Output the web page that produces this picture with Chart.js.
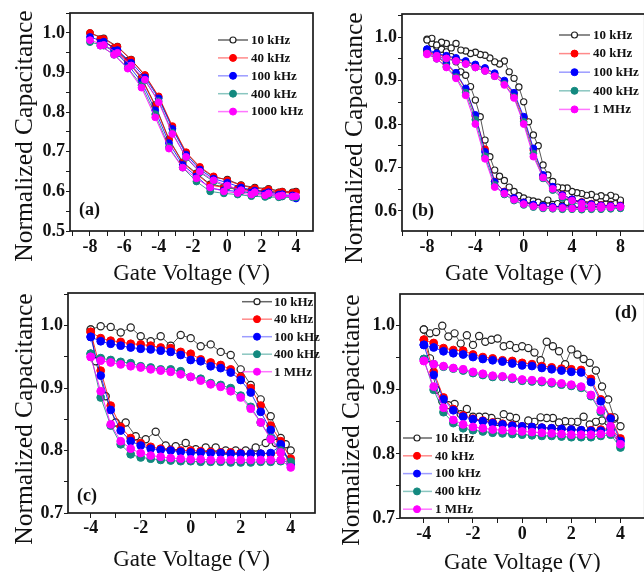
<!DOCTYPE html>
<html><head><meta charset="utf-8">
<script src="https://cdn.jsdelivr.net/npm/chart.js@4/dist/chart.umd.min.js"></script>
<style>
html,body{margin:0;padding:0;background:#fff;overflow:hidden;width:644px;height:572px;position:relative}
</style>
</head><body>
<script>
// ---------- tick / title text ----------
const X_TITLE = 'Gate Voltage (V)';
const Y_TITLE = 'Normalized Capacitance';
const namesA = ['10 kHz','40 kHz','100 kHz','400 kHz','1000 kHz'];
const namesBCD = ['10 kHz','40 kHz','100 kHz','400 kHz','1 MHz'];

// ---------- panel (a): forward branch -8..4, then return branch 3.8..-7.4 ----------
const xA = [-8,-7.2,-6.4,-5.6,-4.8,-4,-3.2,-2.4,-1.6,-0.8,0,0.8,1.6,2.4,3.2,4,
            3.8,3.0,2.2,1.4,0.6,-0.2,-1.0,-1.8,-2.6,-3.4,-4.2,-5.0,-5.8,-6.6,-7.4];
const a10   = [1.0,0.987,0.966,0.933,0.893,0.838,0.762,0.697,0.66,0.636,0.63,0.616,0.61,0.607,0.6,0.6,
               0.598,0.598,0.601,0.603,0.607,0.612,0.618,0.646,0.674,0.732,0.818,0.887,0.93,0.963,0.985];
const a40   = [1.0,0.985,0.965,0.932,0.894,0.84,0.765,0.699,0.662,0.638,0.628,0.615,0.608,0.605,0.599,0.598,
               0.596,0.597,0.6,0.602,0.605,0.61,0.616,0.644,0.672,0.73,0.815,0.885,0.928,0.962,0.984];
const a100  = [0.99,0.978,0.957,0.925,0.888,0.835,0.758,0.693,0.655,0.632,0.622,0.61,0.602,0.598,0.593,0.582,
               0.59,0.592,0.595,0.597,0.6,0.603,0.608,0.638,0.667,0.722,0.805,0.877,0.92,0.955,0.975];
const a400  = [0.977,0.968,0.948,0.917,0.88,0.828,0.748,0.685,0.648,0.625,0.612,0.6,0.595,0.59,0.587,0.585,
               0.585,0.585,0.586,0.588,0.592,0.595,0.6,0.625,0.66,0.712,0.795,0.868,0.912,0.945,0.968];
const a1000 = [0.982,0.97,0.95,0.918,0.882,0.825,0.745,0.687,0.65,0.628,0.615,0.603,0.598,0.595,0.59,0.588,
               0.587,0.588,0.59,0.592,0.596,0.6,0.61,0.633,0.66,0.708,0.787,0.862,0.91,0.945,0.968];

// ---------- panel (b) ----------
const xB = [-8,-7.2,-6.4,-5.6,-4.8,-4,-3.2,-2.4,-1.6,-0.8,0,0.8,1.6,2.4,3.2,4,4.8,5.6,6.4,7.2,8,
            8,7.2,6.4,5.6,4.8,4,3.2,2.4,1.6,0.8,0,-0.8,-1.6,-2.4,-3.2,-4,-4.8,-5.6,-6.4,-7.2,-8];
const xB10 = [-8,-7.6,-7.2,-6.8,-6.4,-6,-5.6,-5.2,-4.8,-4.4,-4,-3.6,-3.2,-2.8,-2.4,-2,-1.6,-1.2,-0.8,-0.4,0,
              0.4,0.8,1.2,1.6,2,2.4,2.8,3.2,3.6,4,4.4,4.8,5.2,5.6,6,6.4,6.8,7.2,7.6,8,
              8,7.6,7.2,6.8,6.4,6,5.6,5.2,4.8,4.4,4,3.6,3.2,2.8,2.4,2,1.6,1.2,0.8,0.4,0,
              -0.4,-0.8,-1.2,-1.6,-2,-2.4,-2.8,-3.2,-3.6,-4,-4.4,-4.8,-5.2,-5.6,-6,-6.4,-6.8,-7.2,-7.6,-8];
const b10 = [0.995,0.985,0.978,0.972,0.966,0.955,0.943,0.92,0.912,0.886,0.855,0.817,0.763,0.725,0.694,0.68,0.67,0.655,0.645,0.635,0.63,
             0.625,0.623,0.62,0.615,0.625,0.615,0.617,0.613,0.62,0.617,0.615,0.616,0.614,0.615,0.617,0.614,0.616,0.615,0.617,0.62,
             0.625,0.632,0.636,0.63,0.635,0.632,0.638,0.636,0.64,0.642,0.645,0.653,0.653,0.655,0.668,0.683,0.706,0.75,0.775,0.805,0.851,
             0.885,0.905,0.92,0.945,0.938,0.943,0.952,0.958,0.96,0.965,0.962,0.968,0.97,0.985,0.975,0.985,0.988,0.982,0.997,0.993];
const b40 = [0.968,0.955,0.938,0.915,0.88,0.818,0.742,0.668,0.645,0.63,0.62,0.614,0.611,0.61,0.609,0.609,0.608,0.609,0.609,0.61,0.611,
             0.613,0.613,0.614,0.617,0.621,0.627,0.638,0.655,0.68,0.74,0.812,0.868,0.897,0.915,0.927,0.935,0.943,0.95,0.955,0.96,0.968];
const b100 = [0.972,0.958,0.94,0.918,0.882,0.821,0.736,0.667,0.644,0.63,0.62,0.615,0.612,0.61,0.61,0.609,0.609,0.609,0.61,0.61,0.611,
              0.612,0.612,0.613,0.616,0.62,0.627,0.637,0.656,0.683,0.744,0.817,0.872,0.9,0.917,0.929,0.937,0.945,0.952,0.957,0.963,0.972];
const b400 = [0.962,0.95,0.932,0.908,0.872,0.81,0.726,0.66,0.638,0.624,0.614,0.609,0.606,0.605,0.604,0.604,0.603,0.604,0.604,0.605,0.606,
              0.608,0.608,0.608,0.61,0.614,0.62,0.63,0.648,0.675,0.732,0.805,0.862,0.892,0.91,0.922,0.93,0.938,0.945,0.95,0.956,0.962];
const b1M = [0.96,0.95,0.93,0.905,0.866,0.8,0.72,0.655,0.64,0.626,0.616,0.611,0.608,0.607,0.607,0.606,0.606,0.607,0.607,0.608,0.609,
             0.61,0.61,0.611,0.613,0.617,0.624,0.634,0.651,0.677,0.725,0.8,0.86,0.89,0.91,0.922,0.93,0.938,0.945,0.951,0.957,0.962];

// ---------- panel (c) ----------
const xC = [-4,-3.6,-3.2,-2.8,-2.4,-2,-1.6,-1.2,-0.8,-0.4,0,0.4,0.8,1.2,1.6,2,2.4,2.8,3.2,3.6,4,
            3.6,3.2,2.8,2.4,2,1.6,1.2,0.8,0.4,0,-0.4,-0.8,-1.2,-1.6,-2,-2.4,-2.8,-3.2,-3.6,-4];
const xC10 = [-4,-3.6,-3.2,-2.8,-2.4,-2,-1.6,-1.2,-0.8,-0.4,0,0.4,0.8,1.2,1.6,2,2.4,2.8,3.2,3.6,4,
              3.8,3.4,3.0,2.6,2.2,1.8,1.4,1.0,0.6,0.2,-0.2,-0.6,-1.0,-1.4,-1.8,-2.2,-2.6,-3.0,-3.4,-3.8,-4];
const c10 = [0.994,0.999,0.998,0.989,0.997,0.983,0.975,0.983,0.968,0.985,0.98,0.967,0.97,0.958,0.953,0.93,0.905,0.882,0.855,0.82,0.8,
             0.81,0.812,0.812,0.805,0.8,0.8,0.8,0.805,0.805,0.802,0.812,0.807,0.808,0.83,0.818,0.823,0.845,0.845,0.887,0.943,0.994];
const c40 = [0.99,0.98,0.976,0.974,0.971,0.97,0.968,0.965,0.964,0.958,0.955,0.946,0.941,0.937,0.93,0.918,0.9,0.872,0.84,0.815,0.787,
             0.797,0.795,0.795,0.795,0.796,0.797,0.797,0.798,0.799,0.8,0.8,0.801,0.803,0.806,0.812,0.82,0.838,0.872,0.928,0.99];
const c100 = [0.982,0.975,0.971,0.968,0.965,0.963,0.962,0.96,0.958,0.953,0.945,0.943,0.935,0.932,0.925,0.913,0.893,0.862,0.833,0.81,0.778,
              0.808,0.796,0.795,0.795,0.795,0.795,0.796,0.796,0.797,0.797,0.798,0.8,0.801,0.803,0.808,0.815,0.832,0.865,0.92,0.982];
const c400 = [0.955,0.948,0.945,0.942,0.94,0.935,0.933,0.93,0.93,0.927,0.918,0.915,0.908,0.905,0.9,0.888,0.87,0.845,0.82,0.8,0.782,
              0.783,0.782,0.782,0.781,0.781,0.781,0.782,0.782,0.782,0.783,0.783,0.784,0.785,0.787,0.789,0.794,0.81,0.84,0.885,0.955];
const c1M = [0.95,0.944,0.941,0.938,0.935,0.933,0.93,0.928,0.926,0.922,0.918,0.912,0.906,0.902,0.895,0.885,0.867,0.845,0.818,0.797,0.773,
             0.785,0.785,0.785,0.785,0.785,0.785,0.785,0.785,0.786,0.786,0.787,0.788,0.79,0.792,0.796,0.803,0.815,0.842,0.895,0.95];

// ---------- panel (d) ----------
const xD = [-4,-3.6,-3.2,-2.8,-2.4,-2,-1.6,-1.2,-0.8,-0.4,0,0.4,0.8,1.2,1.6,2,2.4,2.8,3.2,3.6,4,
            3.6,3.2,2.8,2.4,2,1.6,1.2,0.8,0.4,0,-0.4,-0.8,-1.2,-1.6,-2,-2.4,-2.8,-3.2,-3.6,-4];
const xD10 = [-4,-3.75,-3.5,-3.25,-3,-2.75,-2.5,-2.25,-2,-1.75,-1.5,-1.25,-1,-0.75,-0.5,-0.25,0,0.25,0.5,0.75,1,1.25,1.5,1.75,2,2.25,2.5,2.75,3,3.25,3.5,3.75,4,
              3.75,3.5,3.25,3,2.75,2.5,2.25,2,1.75,1.5,1.25,1,0.75,0.5,0.25,0,-0.25,-0.5,-0.75,-1,-1.25,-1.5,-1.75,-2,-2.25,-2.5,-2.75,-3,-3.25,-3.5,-3.75,-4];
const d10 = [0.994,0.988,0.99,1.0,0.983,0.988,0.972,0.985,0.97,0.984,0.975,0.978,0.98,0.968,0.97,0.965,0.968,0.965,0.958,0.946,0.975,0.968,0.96,0.94,0.963,0.955,0.948,0.942,0.93,0.905,0.885,0.855,0.843,
             0.857,0.85,0.852,0.85,0.846,0.858,0.85,0.85,0.851,0.849,0.856,0.856,0.857,0.85,0.852,0.838,0.856,0.858,0.862,0.85,0.856,0.858,0.858,0.858,0.87,0.862,0.878,0.876,0.882,0.9,0.949,0.994];
const d40 = [0.978,0.973,0.965,0.962,0.961,0.955,0.951,0.949,0.946,0.945,0.942,0.94,0.937,0.935,0.933,0.932,0.931,0.917,0.885,0.857,0.824,
             0.84,0.838,0.837,0.837,0.838,0.839,0.84,0.841,0.842,0.843,0.845,0.847,0.849,0.852,0.855,0.86,0.87,0.888,0.928,0.978];
const d100 = [0.97,0.966,0.96,0.957,0.955,0.951,0.948,0.946,0.944,0.941,0.938,0.937,0.934,0.932,0.93,0.928,0.927,0.912,0.882,0.855,0.82,
              0.838,0.836,0.836,0.837,0.838,0.839,0.84,0.841,0.842,0.843,0.844,0.846,0.848,0.851,0.854,0.858,0.868,0.885,0.923,0.97];
const d400 = [0.948,0.94,0.936,0.933,0.93,0.926,0.923,0.92,0.92,0.917,0.914,0.913,0.912,0.91,0.908,0.906,0.903,0.89,0.865,0.84,0.81,
              0.83,0.828,0.826,0.826,0.826,0.827,0.828,0.828,0.829,0.83,0.831,0.832,0.833,0.835,0.837,0.84,0.848,0.865,0.9,0.948];
const d1M = [0.945,0.94,0.937,0.934,0.932,0.928,0.925,0.922,0.921,0.919,0.916,0.915,0.914,0.912,0.91,0.908,0.905,0.892,0.868,0.843,0.815,
             0.833,0.831,0.83,0.83,0.83,0.831,0.832,0.833,0.834,0.835,0.836,0.837,0.838,0.84,0.842,0.846,0.853,0.872,0.905,0.945];

// ---------- styling ----------
const FONT = "'Liberation Serif','Times New Roman',serif";
const SERIES_COLORS = ['#222222','#ff0000','#0000ff','#13897f','#ff00ff'];
const LINE_COLORS   = ['#555555','rgba(255,0,0,0.8)','rgba(0,0,255,0.8)','rgba(19,137,127,0.8)','rgba(255,0,255,0.85)'];
const LEGEND_LINES  = ['#666666','rgba(255,60,60,0.6)','rgba(90,90,255,0.6)','rgba(60,160,150,0.6)','rgba(255,60,255,0.7)'];

function toPts(xs, ys){ return xs.map((x,i)=>({x:x, y:ys[i]})); }

function makeDatasets(names, xs10, xsOther, ysList, r){
  return ysList.map((ys,i)=>{
    const open = i===0;
    return {
      label: names[i],
      data: toPts(open ? xs10 : xsOther, ys),
      borderColor: LINE_COLORS[i],
      borderWidth: 1,
      tension: 0,
      pointRadius: open ? r-0.3 : r,
      pointStyle: 'circle',
      pointBackgroundColor: open ? '#ffffff' : SERIES_COLORS[i],
      pointBorderColor: SERIES_COLORS[i],
      pointBorderWidth: open ? 1.2 : 1,
      order: 5-i
    };
  });
}

function deco(p){
  return {
    id: 'deco'+p.id,
    afterDraw(chart){
      const ctx = chart.ctx, a = chart.chartArea, ox = p.cl, oy = p.ct;
      ctx.save();
      ctx.strokeStyle = '#1a1a1a'; ctx.lineWidth = 1.7;
      ctx.strokeRect(a.left, a.top, a.right-a.left, a.bottom-a.top);
      // y-axis title
      ctx.save();
      ctx.translate(p.yTitle.x-ox, p.yTitle.y-oy);
      ctx.rotate(-Math.PI/2);
      ctx.font = '25.5px '+FONT; ctx.fillStyle = '#111';
      ctx.textAlign = 'center'; ctx.textBaseline = 'middle';
      ctx.fillText(Y_TITLE, 0, 0);
      ctx.restore();
      // panel label
      ctx.font = 'bold 18px '+FONT; ctx.fillStyle = '#111';
      ctx.textAlign = 'left'; ctx.textBaseline = 'middle';
      ctx.fillText(p.label.text, p.label.x-ox, p.label.y-oy);
      // legend
      const L = p.legend;
      chart.data.datasets.forEach((ds,i)=>{
        const y = L.y0 + i*L.dy - oy;
        ctx.strokeStyle = LEGEND_LINES[i]; ctx.lineWidth = 1.5;
        ctx.beginPath(); ctx.moveTo(L.x0-ox, y); ctx.lineTo(L.x1-ox, y); ctx.stroke();
        ctx.beginPath(); ctx.arc(L.mx-ox, y, i===0?3:3.5, 0, Math.PI*2);
        ctx.fillStyle = ds.pointBackgroundColor; ctx.fill();
        ctx.lineWidth = ds.pointBorderWidth; ctx.strokeStyle = ds.pointBorderColor; ctx.stroke();
        ctx.fillStyle = '#111'; ctx.font = 'bold 13px '+FONT;
        ctx.textAlign = 'left'; ctx.textBaseline = 'middle';
        ctx.fillText(ds.label, L.tx-ox, y+0.5);
      });
      ctx.restore();
    }
  };
}

function makePanel(p){
  const cv = document.createElement('canvas');
  cv.width = p.cw; cv.height = p.ch;
  cv.style.cssText = 'position:absolute;left:'+p.cl+'px;top:'+p.ct+'px;width:'+p.cw+'px;height:'+p.ch+'px';
  document.body.appendChild(cv);
  const tickFont = {family: FONT, size: 18, weight: 'bold', lineHeight: 1.2};
  const isMajor = (v, m) => Math.abs(v/m - Math.round(v/m)) < 1e-6;
  new Chart(cv.getContext('2d'), {
    type: 'line',
    data: {datasets: p.datasets},
    options: {
      responsive: false, animation: false, devicePixelRatio: 1, events: [],
      layout: {padding: {left: 0, top: p.area.t-p.ct, right: p.cl+p.cw-p.area.r, bottom: 0}},
      plugins: {legend: {display: false}, tooltip: {enabled: false}},
      scales: {
        x: {
          type: 'linear', min: p.x.min, max: p.x.max,
          afterFit(s){ s.height = p.ct + p.ch - p.area.b; },
          border: {display: false},
          grid: {drawOnChartArea: false, drawTicks: true, tickLength: 5, color: '#1a1a1a', lineWidth: 1},
          ticks: {stepSize: p.x.step, autoSkip: false, maxRotation: 0, minRotation: 0, includeBounds: false,
                  maxTicksLimit: 1000, padding: p.xTickPad, color: '#111', font: tickFont,
                  callback: v => isMajor(v, p.x.major) ? String(Math.round(v)) : ''},
          title: {display: true, text: X_TITLE, color: '#111',
                  font: {family: FONT, size: 23, lineHeight: 1}, padding: {top: 0, bottom: p.xTitlePad}}
        },
        y: {
          type: 'linear', min: p.y.min, max: p.y.max,
          afterFit(s){ s.width = p.area.l - p.cl; },
          border: {display: false},
          grid: {drawOnChartArea: false, drawTicks: true, tickLength: 4, color: '#1a1a1a', lineWidth: 1},
          ticks: {stepSize: 0.05, autoSkip: false, includeBounds: false, maxTicksLimit: 1000,
                  padding: 1, color: '#111', font: tickFont,
                  callback: v => isMajor(v, 0.1) ? v.toFixed(1) : ''}
        }
      }
    },
    plugins: [deco(p)]
  });
}

makePanel({
  id: 'a', cl: 0, ct: 0, cw: 322, ch: 290, area: {l: 70, t: 13, r: 313, b: 231},
  x: {min: -9.165, max: 4.99, step: 1, major: 2}, y: {min: 0.5, max: 1.0505},
  xTickPad: 1, xTitlePad: 5,
  yTitle: {x: 25, y: 136}, label: {text: '(a)', x: 79, y: 210},
  legend: {x0: 218, x1: 248, mx: 233, tx: 251, y0: 40, dy: 17.9},
  datasets: makeDatasets(namesA, xA, xA, [a10, a40, a100, a400, a1000], 3.4)
});
makePanel({
  id: 'b', cl: 322, ct: 0, cw: 328, ch: 290, area: {l: 402, t: 14, r: 648, b: 231},
  x: {min: -10.07, max: 10.02, step: 2, major: 4}, y: {min: 0.554, max: 1.053},
  xTickPad: 1, xTitlePad: 5,
  yTitle: {x: 355, y: 138}, label: {text: '(b)', x: 412, y: 211.7},
  legend: {x0: 559, x1: 590, mx: 574.5, tx: 593, y0: 35, dy: 18.6},
  datasets: makeDatasets(namesBCD, xB10, xB, [b10, b40, b100, b400, b1M], 3.4)
});
makePanel({
  id: 'c', cl: 0, ct: 280, cw: 322, ch: 292, area: {l: 68, t: 293, r: 315, b: 513},
  x: {min: -4.908, max: 4.972, step: 1, major: 2}, y: {min: 0.7, max: 1.0523},
  xTickPad: 0, xTitlePad: 1,
  yTitle: {x: 25, y: 419}, label: {text: '(c)', x: 77, y: 496.7},
  legend: {x0: 242, x1: 272, mx: 257, tx: 274, y0: 301.7, dy: 17.5},
  datasets: makeDatasets(namesBCD, xC10, xC, [c10, c40, c100, c400, c1M], 3.9)
});
makePanel({
  id: 'd', cl: 322, ct: 280, cw: 328, ch: 300, area: {l: 400, t: 294, r: 646, b: 518},
  x: {min: -4.97, max: 4.99, step: 1, major: 2}, y: {min: 0.7, max: 1.0494},
  xTickPad: 1, xTitlePad: 6,
  yTitle: {x: 352, y: 420}, label: {text: '(d)', x: 615, y: 313.3},
  legend: {x0: 403, x1: 432, mx: 417, tx: 435, y0: 438, dy: 17.8},
  datasets: makeDatasets(namesBCD, xD10, xD, [d10, d40, d100, d400, d1M], 3.9)
});
</script>
</body></html>
